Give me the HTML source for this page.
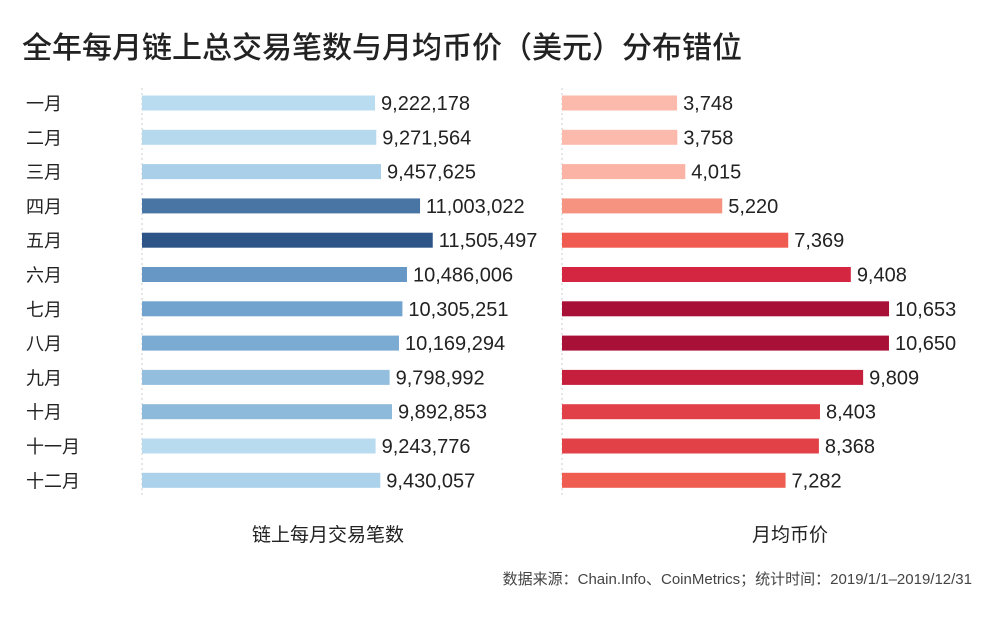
<!DOCTYPE html>
<html><head><meta charset="utf-8"><style>
html,body{margin:0;padding:0;background:#fff;}
body{width:1000px;height:615px;overflow:hidden;font-family:"Liberation Sans","Noto Sans CJK SC",sans-serif;}
</style></head><body>
<svg id="chart" width="1000" height="615" xmlns="http://www.w3.org/2000/svg" font-family="Liberation Sans, Noto Sans CJK SC, sans-serif">
<text x="22" y="58" font-size="30" fill="#222" font-weight="500">全年每月链上总交易笔数与月均币价（美元）分布错位</text>
<line x1="142" y1="88" x2="142" y2="495" stroke="#ccc" stroke-dasharray="2,3"/>
<line x1="562" y1="88" x2="562" y2="495" stroke="#ccc" stroke-dasharray="2,3"/>
<g id="bars"></g>
<text x="328" y="541" font-size="19" fill="#222" text-anchor="middle">链上每月交易笔数</text>
<text x="790" y="541" font-size="19" fill="#222" text-anchor="middle">月均币价</text>
<text x="972" y="584" font-size="15" fill="#444" text-anchor="end">数据来源：Chain.Info、CoinMetrics；统计时间：2019/1/1–2019/12/31</text>
</svg>
<script>
const months = ["一月","二月","三月","四月","五月","六月","七月","八月","九月","十月","十一月","十二月"];
const txCounts = [9222178,9271564,9457625,11003022,11505497,10486006,10305251,10169294,9798992,9892853,9243776,9430057];
const prices = [3748,3758,4015,5220,7369,9408,10653,10650,9809,8403,8368,7282];

const NS="http://www.w3.org/2000/svg";
const g=document.getElementById('bars');
const rowY=i=>103+i*34.3;
const xLeft=v=>142+v*25.27e-6;
const xRight=v=>562+v*0.0307;
function lerp(a,b,t){return a.map((x,k)=>Math.round(x+(b[k]-x)*t));}
function grad(stops,t){t=Math.max(0,Math.min(1,t));
  for(let i=0;i<stops.length-1;i++){const [p0,c0]=stops[i],[p1,c1]=stops[i+1];
    if(t<=p1){return `rgb(${lerp(c0,c1,(t-p0)/(p1-p0))})`;}}
  return `rgb(${stops[stops.length-1][1]})`;}
const blue=[[0,[186,220,240]],[0.5,[110,160,205]],[1,[44,84,134]]];
const red=[[0,[252,186,173]],[0.21,[246,148,128]],[0.52,[239,92,80]],[0.82,[212,38,64]],[1,[169,16,56]]];
const tMin=Math.min(...txCounts),tMax=Math.max(...txCounts);
const pMin=Math.min(...prices),pMax=Math.max(...prices);
function mk(tag,attrs){const e=document.createElementNS(NS,tag);for(const k in attrs)e.setAttribute(k,attrs[k]);g.appendChild(e);return e;}
months.forEach((m,i)=>{
  const y=rowY(i);
  const lab=mk('text',{x:26,y:y+7,'font-size':18,fill:'#222'});lab.textContent=m;
  
  
  const b1=mk('rect',{x:142,y:y-7.5,width:xLeft(txCounts[i])-142,height:15,fill:grad(blue,(txCounts[i]-tMin)/(tMax-tMin))});
  
  
  const v1=mk('text',{x:xLeft(txCounts[i])+6,y:y+7,'font-size':20,fill:'#222'});v1.textContent=txCounts[i].toLocaleString('en-US');
  
  
  const b2=mk('rect',{x:562,y:y-7.5,width:xRight(prices[i])-562,height:15,fill:grad(red,(prices[i]-pMin)/(pMax-pMin))});
  
  
  const v2=mk('text',{x:xRight(prices[i])+6,y:y+7,'font-size':20,fill:'#222'});v2.textContent=prices[i].toLocaleString('en-US');
  
  
});
</script>
</body></html>
